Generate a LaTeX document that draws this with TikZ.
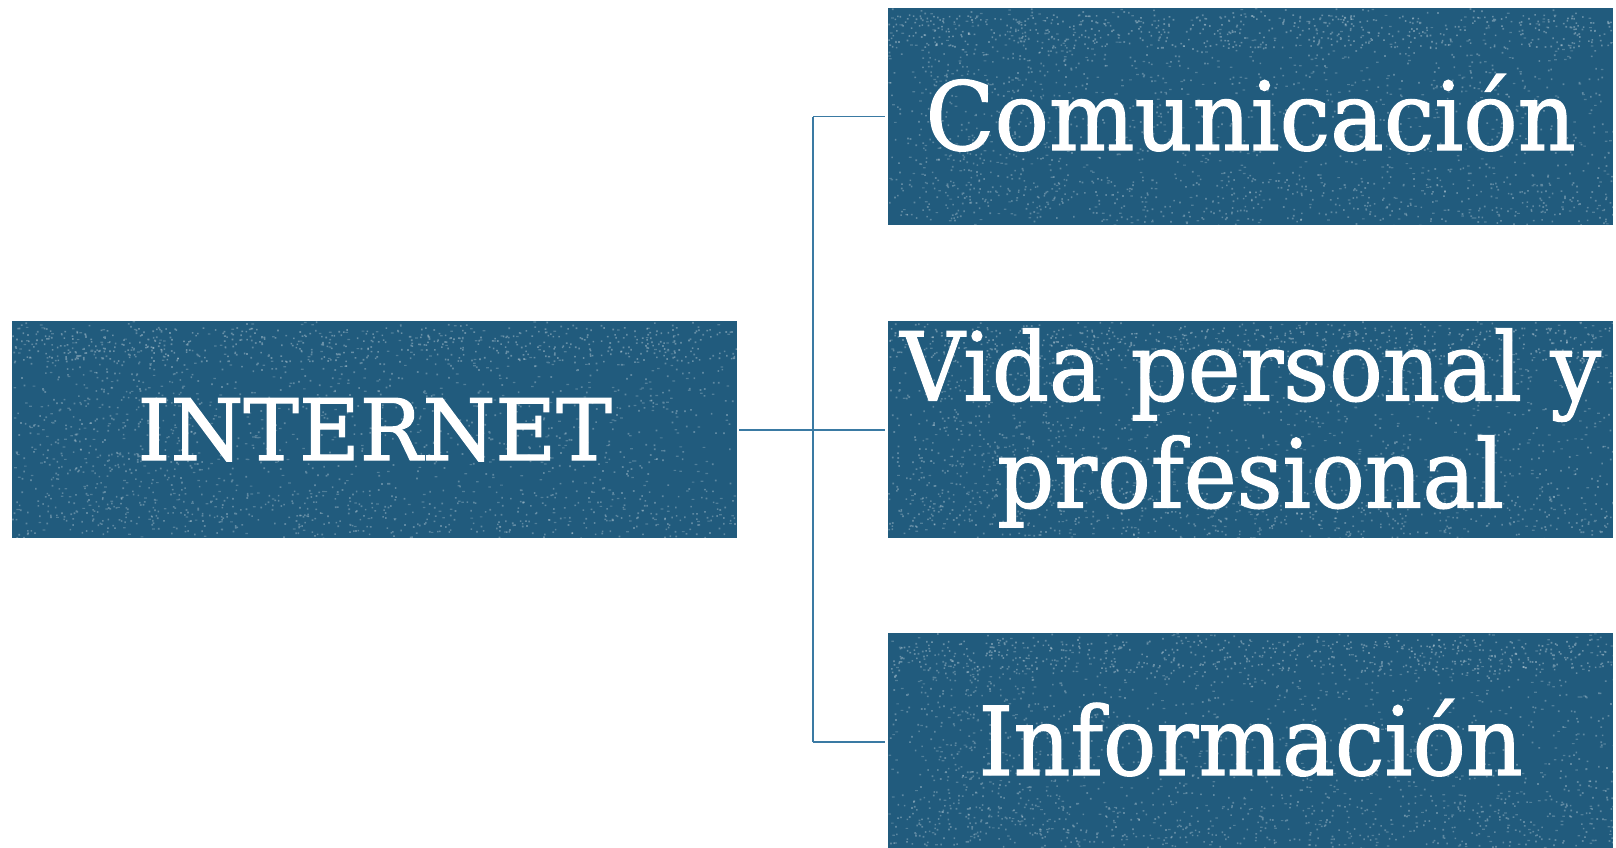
\documentclass[tikz,border=0pt]{standalone}
\usepackage{fontspec}
\usepackage{graphicx}
\setmainfont{DejaVu Serif}
\newfontfamily\slab{DejaVu Serif}[FakeBold=1.3]
\definecolor{tile}{RGB}{33,91,125}
\definecolor{wire}{RGB}{58,122,163}
\begin{document}
\pgfmathsetseed{11}
\begin{tikzpicture}[x=1pt,y=-1pt,
  tilebox/.style={fill=tile, minimum width=725pt, minimum height=217pt,
    inner sep=0pt, anchor=north west},
  speck/.style={fill=white, opacity=#1},
  label/.style={text=white, font=\slab\fontsize{95}{107}\selectfont},
  conn/.style={draw=wire, line width=1.6pt}]
\useasboundingbox (0,0) rectangle (1616,848);

\node[tilebox] (internet) at (12,321) {};
\node[tilebox] (com) at (888,8) {};
\node[tilebox] (vida) at (888,321) {};
\node[tilebox] (info) at (888,633) {};

% worn, speckled print texture on each tile
\foreach \b in {internet,com,vida,info}{
  \begin{scope}[shift={(\b.north west)}]
    \clip (0,0) rectangle (725,217);
    \fill[speck=.28] foreach \k in {1,...,900}{ ({rnd*725},{rnd*217}) rectangle ++(1.7,1.7) };
    \fill[speck=.22] foreach \k in {1,...,500}{ ({rnd*725},{rnd*217}) rectangle ++(2.6,1.2) };
    \fill[speck=.32] foreach \k in {1,...,450}{ ({rnd*725},{6+rnd*34}) rectangle ++(1.6,1.6) };
    \fill[speck=.28] foreach \k in {1,...,300}{ ({rnd*725},{168+rnd*45}) rectangle ++(1.6,1.6) };
    \fill[speck=.25] foreach \k in {1,...,250}{ ({30+rnd*150},{20+rnd*180}) rectangle ++(1.6,1.6) };
  \end{scope}
}

\node[label, font=\slab\fontsize{85}{100}\selectfont] (tinternet) at (internet.center) {\scalebox{0.98}[1]{INTERNET}};
\node[label, yshift=4pt] (tcom) at (com.center) {\scalebox{0.95}[1]{Comunicación}};
\node[label, yshift=-3pt] (tvida) at (vida.center) {\scalebox{0.94}[1]{\begin{tabular}{@{}c@{}}Vida personal y\\profesional\end{tabular}}};
\node[label, yshift=4pt] (tinfo) at (info.center) {\scalebox{0.93}[1]{Información}};

\coordinate (j) at (813,429);
\draw[conn, shorten <=2pt, shorten >=3pt] (internet.east) -- (vida.west);
\draw[conn, shorten >=3pt] (com.west -| j) -- (com.west);
\draw[conn, shorten >=3pt] (info.west -| j) -- (info.west);
\draw[conn] (com.west -| j) -- (info.west -| j);
\end{tikzpicture}
\end{document}
